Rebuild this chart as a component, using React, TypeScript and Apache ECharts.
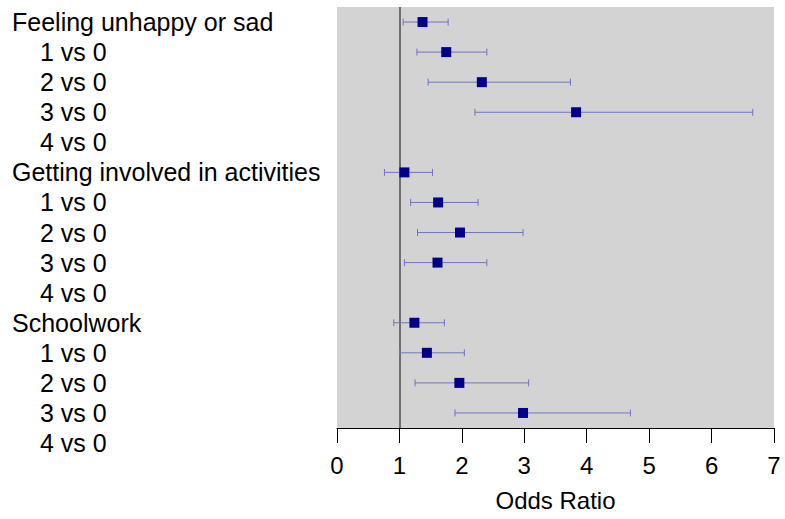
import React, { useEffect, useRef } from "react";
import * as echarts from "echarts";

const rowLabels = [
  "Feeling unhappy or sad", "1 vs 0", "2 vs 0", "3 vs 0", "4 vs 0",
  "Getting involved in activities", "1 vs 0", "2 vs 0", "3 vs 0", "4 vs 0",
  "Schoolwork", "1 vs 0", "2 vs 0", "3 vs 0", "4 vs 0",
];
const isHeader = [
  true, false, false, false, false,
  true, false, false, false, false,
  true, false, false, false, false,
];
const estimates = [1.37, 1.75, 2.32, 3.83, null, 1.08, 1.62, 1.97, 1.61, null, 1.24, 1.44, 1.96, 2.98, null];
const lowerCI = [1.06, 1.28, 1.46, 2.21, null, 0.76, 1.18, 1.29, 1.08, null, 0.91, 1.0, 1.25, 1.89, null];
const upperCI = [1.78, 2.4, 3.74, 6.66, null, 1.53, 2.26, 2.98, 2.4, null, 1.72, 2.04, 3.07, 4.7, null];
const xMin = 0;
const xMax = 7;
const xStep = 1;
const refValue = 1;

const FONT = "'Liberation Sans', Arial, Helvetica, sans-serif";

export default function App() {
  const ref = useRef<HTMLDivElement>(null);
  useEffect(() => {
    if (!ref.current) return;
    const chart = echarts.init(ref.current, undefined, { renderer: "svg" });
    const rowH = 421 / 14;
    const pointData: any[] = [];
    const barData: any[] = [];
    estimates.forEach((e, i) => {
      if (e !== null) pointData.push([e, i]);
      if (lowerCI[i] !== null && upperCI[i] !== null) barData.push([i, lowerCI[i], upperCI[i]]);
    });
    const barColor = "#7272c6";
    chart.setOption({
      animation: false,
      textStyle: { fontFamily: FONT },
      grid: [
        { left: 337, width: 437, top: 7, height: 421, show: true, backgroundColor: "#d3d3d3", borderWidth: 0 },
        { left: 337, width: 437, top: 7, height: rowH * 15, show: false },
      ],
      xAxis: [
        {
          gridIndex: 0, type: "value", position: "bottom", min: xMin, max: xMax, interval: xStep,
          name: "Odds Ratio", nameLocation: "middle", nameGap: 60,
          nameTextStyle: { fontSize: 24, color: "#000", fontFamily: FONT },
          axisLine: { show: true, onZero: false, lineStyle: { color: "#000", width: 1 } },
          axisTick: { show: true, inside: false, length: 15, lineStyle: { color: "#000", width: 1 } },
          axisLabel: { fontSize: 24, color: "#000", margin: 25, fontFamily: FONT },
          splitLine: { show: false },
        },
        { gridIndex: 1, type: "value", show: false, min: 0, max: 1 },
      ],
      yAxis: [
        { gridIndex: 0, type: "value", min: -0.5, max: 13.5, inverse: true, show: false },
        {
          gridIndex: 1, type: "category", inverse: true,
          data: rowLabels.map((_, i) => String(i)),
          axisLine: { show: false }, axisTick: { show: false }, splitLine: { show: false },
          axisLabel: {
            align: "left", margin: 325, interval: 0,
            formatter: (_v: string, idx: number) =>
              isHeader[idx] ? `{h|${rowLabels[idx]}}` : `{s|${rowLabels[idx]}}`,
            rich: {
              h: { fontSize: 25, color: "#000", fontFamily: FONT },
              s: { fontSize: 25, color: "#000", fontFamily: FONT, padding: [0, 0, 0, 28] },
            },
          },
        },
      ],
      series: [
        {
          type: "custom", xAxisIndex: 0, yAxisIndex: 0,
          data: barData,
          encode: { x: [1, 2], y: 0 },
          renderItem: (_params: any, api: any) => {
            const row = api.value(0);
            const p1 = api.coord([api.value(1), row]);
            const p2 = api.coord([api.value(2), row]);
            const h = 3.5;
            const style = { stroke: barColor, lineWidth: 1, fill: null };
            return {
              type: "group",
              children: [
                { type: "line", shape: { x1: p1[0], y1: p1[1], x2: p2[0], y2: p2[1] }, style },
                { type: "line", shape: { x1: p1[0], y1: p1[1] - h, x2: p1[0], y2: p1[1] + h }, style },
                { type: "line", shape: { x1: p2[0], y1: p2[1] - h, x2: p2[0], y2: p2[1] + h }, style },
              ],
            };
          },
          z: 2,
        },
        {
          type: "scatter", xAxisIndex: 0, yAxisIndex: 0,
          data: pointData, symbol: "rect", symbolSize: 10,
          itemStyle: { color: "#00008b", opacity: 1 },
          z: 3,
          markLine: {
            silent: true, symbol: ["none", "none"], label: { show: false },
            lineStyle: { color: "#6e6e6e", width: 2, type: "solid" },
            data: [{ xAxis: refValue }],
            z: 1,
          },
        },
      ],
    });
    return () => chart.dispose();
  }, []);
  return (
    <div
      ref={ref}
      style={{ position: "fixed", left: 0, top: 0, width: 785, height: 519, background: "#fff" }}
    />
  );
}
